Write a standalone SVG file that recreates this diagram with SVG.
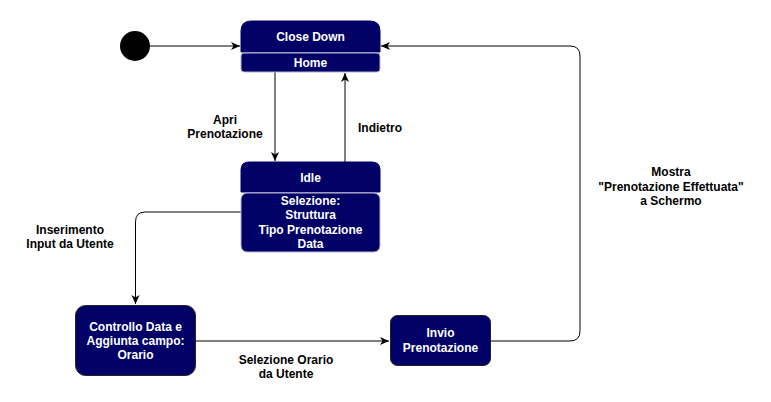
<svg xmlns="http://www.w3.org/2000/svg" width="771" height="402" viewBox="0 0 771 402">
<defs>
<style>
.hdr{fill:#000066;stroke:#000066;stroke-width:1}
.cmp{fill:#000066;stroke:#b8b8d0;stroke-width:1}
.box{fill:#000066;stroke:#222;stroke-width:1}
.wt{font-family:"Liberation Sans",Arial,sans-serif;font-size:12px;font-weight:bold;fill:#fff;text-anchor:middle}
.bt{font-family:"Liberation Sans",Arial,sans-serif;font-size:12px;font-weight:bold;fill:#000;text-anchor:middle}
.edge{fill:none;stroke:#000;stroke-width:1}
</style>
<marker id="arr" markerUnits="userSpaceOnUse" markerWidth="10" markerHeight="10" viewBox="0 0 10 10" refX="9" refY="5" orient="auto">
<path d="M0,1 L9,5 L0,9 L2.5,5 z" fill="#000"/>
</marker>
</defs>
<rect width="771" height="402" fill="#fff"/>
<g id="connectors">
<path class="edge" d="M150,46 H240" marker-end="url(#arr)"/>
<path class="edge" d="M275,72 V161" marker-end="url(#arr)"/>
<path class="edge" d="M345,162 V73" marker-end="url(#arr)"/>
<path class="edge" d="M241,212 H145 Q135.5,212 135.5,222 V304" marker-end="url(#arr)"/>
<path class="edge" d="M196,341 H389" marker-end="url(#arr)"/>
<path class="edge" d="M490,341 H570 Q580,341 580,331 V56 Q580,46 570,46 H381" marker-end="url(#arr)"/>
<text class="bt" x="225" y="124">Apri</text>
<text class="bt" x="225" y="138">Prenotazione</text>
<text class="bt" x="380" y="132">Indietro</text>
<text class="bt" x="70" y="234">Inserimento</text>
<text class="bt" x="70" y="248">Input da Utente</text>
<text class="bt" x="286" y="364">Selezione Orario</text>
<text class="bt" x="286" y="378">da Utente</text>
<text class="bt" x="671" y="176">Mostra</text>
<text class="bt" x="671" y="191">"Prenotazione Effettuata"</text>
<text class="bt" x="671" y="205">a Schermo</text>
</g>
<g id="start">
<circle cx="135" cy="46" r="15" fill="#000"/>
</g>
<g id="close-down">
<path class="hdr" d="M241,52 V31 Q241,21 251,21 H370 Q380,21 380,31 V52 Z"/>
<rect class="cmp" x="241" y="53" width="139" height="19" rx="3"/>
<text class="wt" x="310.5" y="41">Close Down</text>
<text class="wt" x="310.5" y="67">Home</text>
</g>
<g id="idle">
<path class="hdr" d="M241,192 V170 Q241,162 249,162 H372 Q380,162 380,170 V192 Z"/>
<rect class="cmp" x="241" y="193" width="139" height="59" rx="6"/>
<text class="wt" x="310.5" y="182">Idle</text>
<text class="wt" x="310.5" y="205">Selezione:</text>
<text class="wt" x="310.5" y="219">Struttura</text>
<text class="wt" x="310.5" y="234">Tipo Prenotazione</text>
<text class="wt" x="310.5" y="248">Data</text>
</g>
<g id="controllo">
<rect class="box" x="75.5" y="305.5" width="120" height="70" rx="10"/>
<text class="wt" x="135.5" y="331">Controllo Data e</text>
<text class="wt" x="135.5" y="345">Aggiunta campo:</text>
<text class="wt" x="135.5" y="359">Orario</text>
</g>
<g id="invio">
<rect class="box" x="390.5" y="315.5" width="100" height="50" rx="7"/>
<text class="wt" x="440.5" y="337">Invio</text>
<text class="wt" x="440.5" y="352">Prenotazione</text>
</g>
</svg>
